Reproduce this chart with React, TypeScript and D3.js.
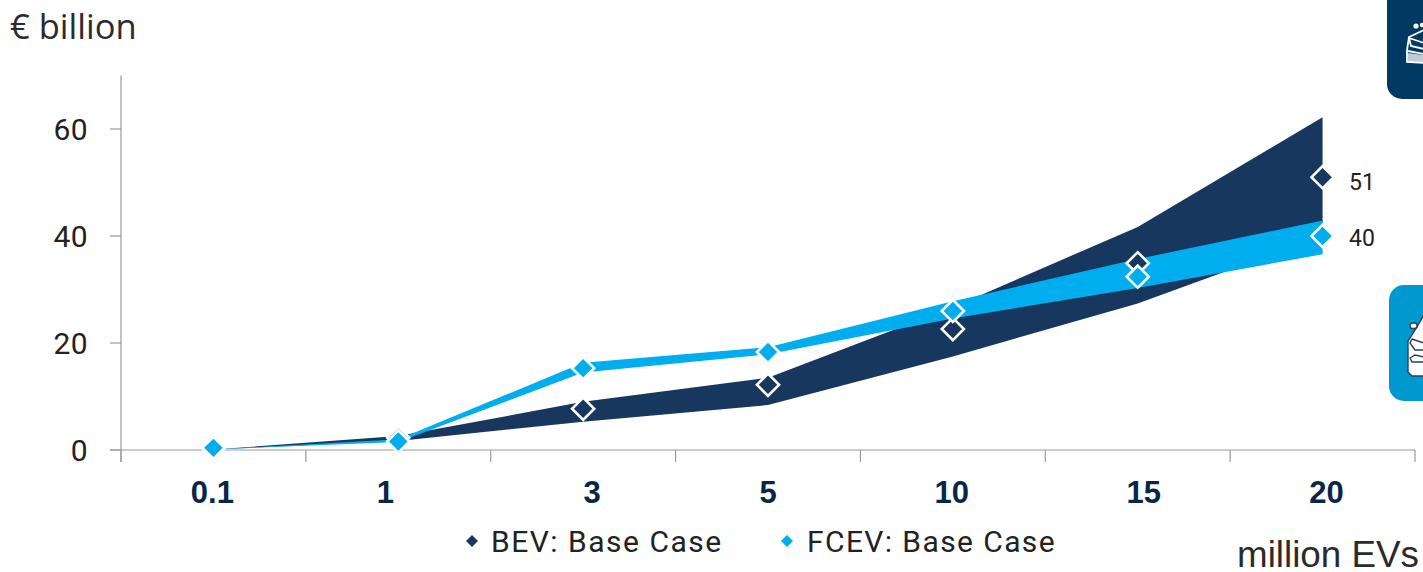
import React from "react";
import * as d3 from "d3";

const categories = ["0.1", "1", "3", "5", "10", "15", "20"];
const yTicks = [0, 20, 40, 60];

const bevUpper = [0.1, 2.6, 9.0, 13.5, 26.7, 41.7, 62.2];
const bevLower = [0.1, 1.7, 5.3, 8.4, 17.5, 27.4, 40.0];
const bevBase = [0.3, 2.3, 7.7, 12.2, 22.6, 34.9, 51];

const fcevUpper = [0.1, 2.0, 16.3, 19.2, 27.8, 35.7, 42.9];
const fcevLower = [0.1, 1.5, 14.5, 17.9, 24.6, 30.3, 36.6];
const fcevBase = [0.4, 1.6, 15.3, 18.3, 26.0, 32.4, 40];

const NAVY = "#17375e";
const CYAN = "#00aeef";
const AXIS = "#9a9a9a";
const WIDTH = 1423;
const HEIGHT = 572;

// Hand-placed category labels sit slightly off their band centres.
const categoryLabelShift = [-1, -13, 9, 0, -1, 6, 4];

const x = d3.scaleBand<string>().domain(categories).range([121, 1415]).padding(0);
const y = d3.scaleLinear().domain([0, 70]).range([450, 75.5]);
const cx = (c: string) => (x(c) as number) + x.bandwidth() / 2;

const band = (upper: number[], lower: number[]) =>
  d3
    .area<string>()
    .x(cx)
    .y0((_, i) => y(lower[i]))
    .y1((_, i) => y(upper[i]))(categories) as string;

const marker = d3.symbol().type(d3.symbolSquare).size(245)() as string;
const legendMarker = d3.symbol().type(d3.symbolSquare).size(72)() as string;

const xEdges = [...categories.map((c) => x(c) as number), 1415];

function Markers({ values, fill }: { values: number[]; fill: string }) {
  return (
    <g>
      {categories.map((c, i) => (
        <path
          key={c}
          d={marker}
          transform={`translate(${cx(c)},${y(values[i])}) rotate(45)`}
          fill={fill}
          stroke="#ffffff"
          strokeWidth={2.6}
        />
      ))}
    </g>
  );
}

// Dark badge at the top right: a car in white outline, cut by the page edge.
function BevBadge() {
  return (
    <g>
      <rect x={1387} y={-30} width={80} height={129} rx={15} fill="#003a63" />
      <g fill="none" stroke="#ffffff" strokeWidth={1.8}>
        <path d="M1424,30 L1409,37 L1407,50 L1407,62 L1424,63" />
        <path d="M1409,38 L1424,43 L1424,49 L1411,46 Z" />
        <path d="M1408,51 L1424,54" />
      </g>
      <path d="M1408,53 L1424,55 L1424,63 L1408,62 Z" fill="#ffffff" opacity={0.75} />
      <circle cx={1416} cy={26} r={2.6} fill="#ffffff" />
      <circle cx={1422} cy={25} r={2.2} fill="#ffffff" />
    </g>
  );
}

// Light badge below it: the same car with a white body and dark outline.
function FcevBadge() {
  return (
    <g>
      <rect x={1389} y={285} width={80} height={116} rx={15} fill="#0099cf" />
      <g stroke="#28405f" strokeWidth={1.4}>
        <path d="M1424,315 L1417,327 L1408,341 L1408,372 L1412,376 L1424,376 Z" fill="#ffffff" />
        <path d="M1412,339 L1424,343 L1424,350 L1415,350 L1410,343 Z" fill="#ffffff" />
        <path d="M1410,358 L1415,355 L1424,357 L1424,362 L1412,362 Z" fill="#ffffff" />
        <rect x={1410} y={323} width={7} height={5.5} rx={2.5} fill="#ffffff" />
      </g>
    </g>
  );
}

export default function App() {
  const sans = "'Liberation Sans', Arial, sans-serif";
  const din = "Roboto, 'Noto Sans', sans-serif";
  return (
    <svg
      width={WIDTH}
      height={HEIGHT}
      viewBox={`0 0 ${WIDTH} ${HEIGHT}`}
      style={{ position: "absolute", left: 0, top: 0, background: "#ffffff" }}
    >
      <text x={10} y={39} fontFamily="'Open Sans', sans-serif" fontSize={34.5} fill="#2b2b2b">
        € billion
      </text>

      <g stroke={AXIS} strokeWidth={1.2} fill="none">
        <line x1={121} x2={121} y1={y(70)} y2={462} />
        <line x1={110} x2={1415} y1={y(0)} y2={y(0)} />
        {yTicks.map((t) => (
          <line key={t} x1={110} x2={121} y1={y(t)} y2={y(t)} />
        ))}
        {xEdges.map((e) => (
          <line key={e} x1={e} x2={e} y1={y(0)} y2={462} />
        ))}
      </g>

      {yTicks.map((t) => (
        <text key={t} x={88} y={y(t) + 11} textAnchor="end" fontFamily={din} fontSize={30} fill="#222222" letterSpacing={0.4}>
          {t}
        </text>
      ))}

      {categories.map((c, i) => (
        <text
          key={c}
          x={cx(c) + categoryLabelShift[i]}
          y={503}
          textAnchor="middle"
          fontFamily={sans}
          fontWeight={700}
          fontSize={31}
          fill="#0a2647"
        >
          {c}
        </text>
      ))}

      <path d={band(bevUpper, bevLower)} fill={NAVY} />
      <path d={band(fcevUpper, fcevLower)} fill={CYAN} />
      <Markers values={bevBase} fill={NAVY} />
      <Markers values={fcevBase} fill={CYAN} />

      <text x={1349} y={y(51) + 13} fontFamily={din} fontSize={23} fill="#222222">
        {bevBase[6]}
      </text>
      <text x={1349} y={y(40) + 10} fontFamily={din} fontSize={23} fill="#222222">
        {fcevBase[6]}
      </text>

      <g>
        <path d={legendMarker} transform="translate(472,541) rotate(45)" fill={NAVY} />
        <text x={491} y={552} fontFamily={din} fontSize={30} fill="#222222" letterSpacing={1.5}>
          BEV: Base Case
        </text>
        <path d={legendMarker} transform="translate(787,541) rotate(45)" fill={CYAN} />
        <text x={807} y={552} fontFamily={din} fontSize={30} fill="#222222" letterSpacing={1.4}>
          FCEV: Base Case
        </text>
      </g>

      <text x={1237} y={567} fontFamily={sans} fontSize={36.8} fill="#2b2b2b">
        million EVs
      </text>

      <BevBadge />
      <FcevBadge />
    </svg>
  );
}
